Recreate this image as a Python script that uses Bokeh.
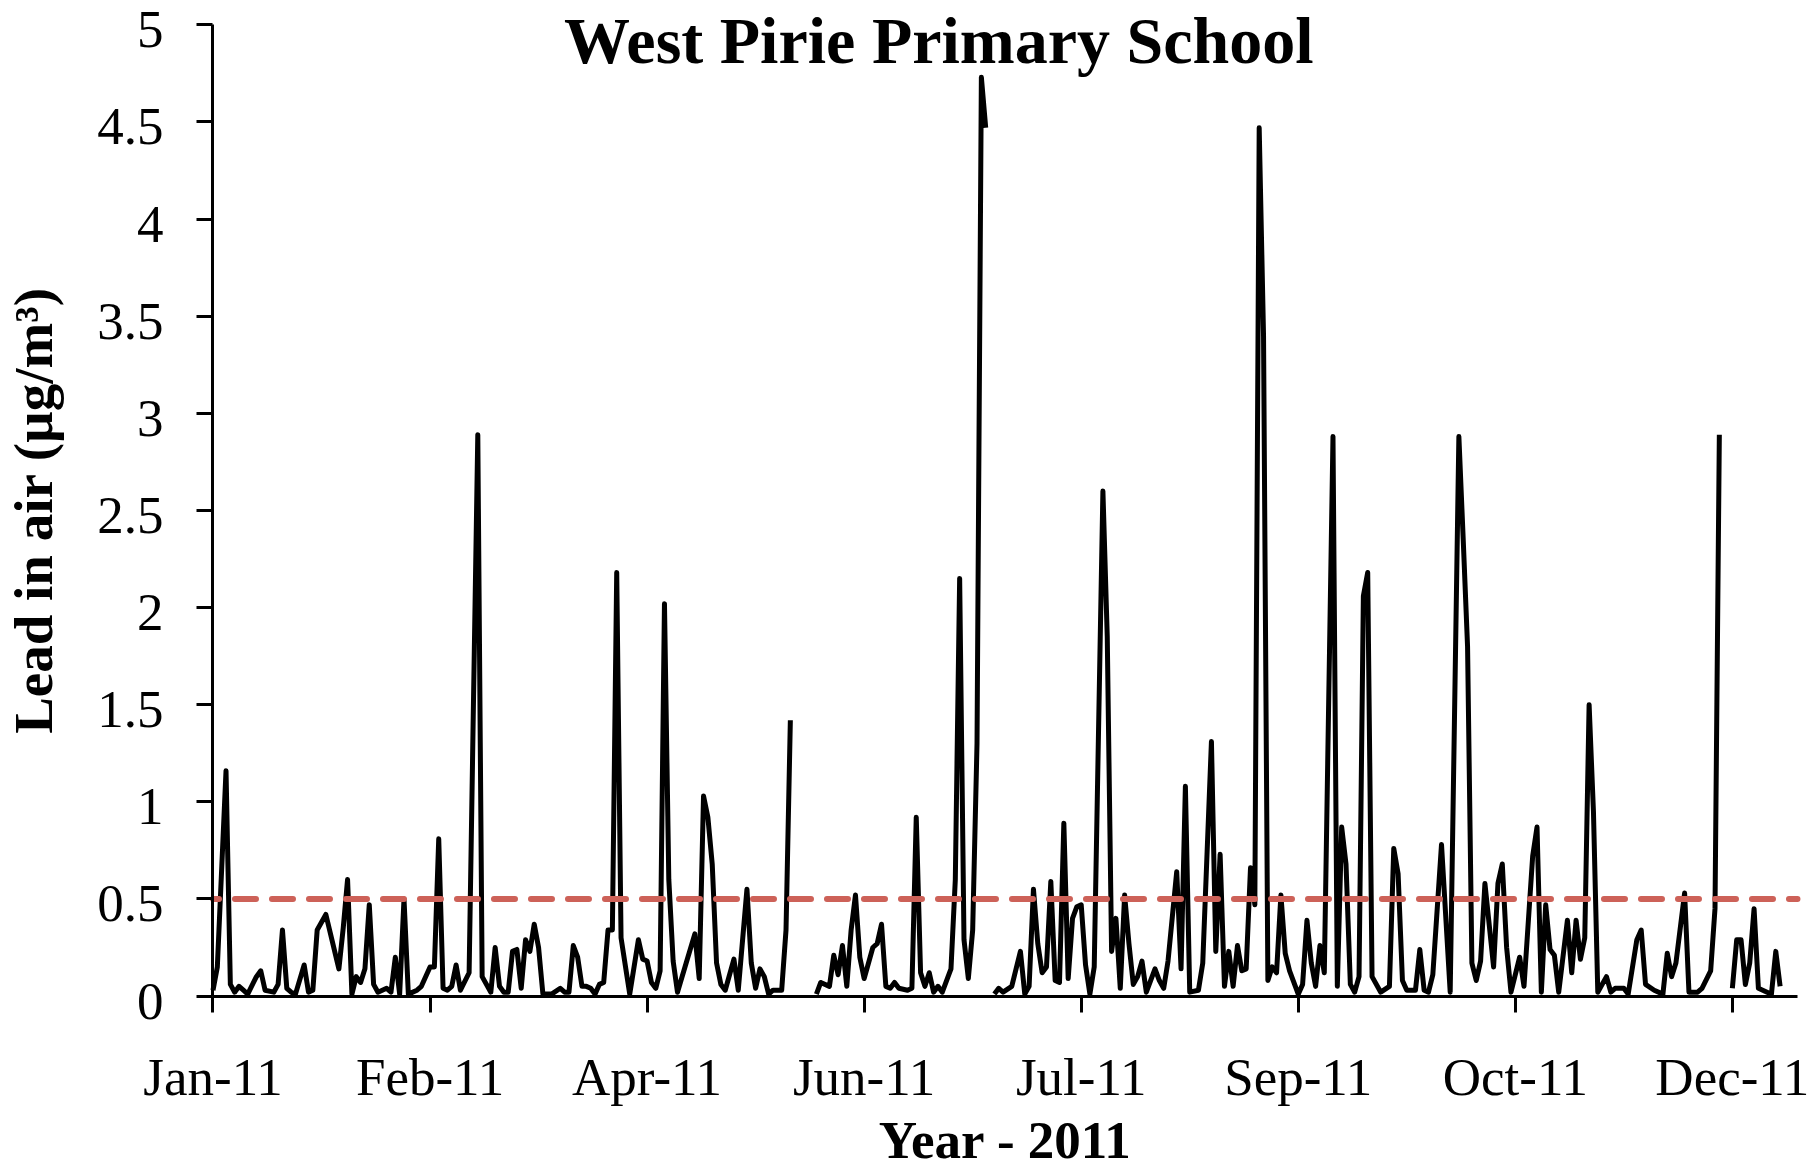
import numpy as np
from bokeh.plotting import figure
from bokeh.models import Range1d, FixedTicker, Label, ColumnDataSource
from bokeh.core.properties import value
from bokeh.embed import file_html
from bokeh.resources import INLINE

title_text = "West Pirie Primary School"
x_axis_title = "Year - 2011"
y_axis_title = "Lead in air (µg/m³)"

tick_days = [0, 50, 100, 150, 200, 250, 300, 350]
tick_labels = ["Jan-11", "Feb-11", "Apr-11", "Jun-11", "Jul-11", "Sep-11", "Oct-11", "Dec-11"]
y_ticks = [0, 0.5, 1, 1.5, 2, 2.5, 3, 3.5, 4, 4.5, 5]
y_tick_labels = ["0", "0.5", "1", "1.5", "2", "2.5", "3", "3.5", "4", "4.5", "5"]
y_axis_bounds = (0, 5)
x_axis_bounds = (0, 365)
standard_ugm3 = 0.5

# day index from start of record; None marks a break in the record
day_of_year = [
    0, 1, 3, 4, 5, 6, 7, 8, 10, 11, 12, 14, 15, 16, 17, 18, 19, 21, 22, 23,
    24, 26, 29, 30, 31, 32, 33, 34, 35, 36, 37, 38, 40, 41, 42, 43, 44, 45, 47, 48,
    50, 51, 52, 53, 54, 55, 56, 57, 59, 61, 62, 64, 65, 66, 67, 68, 69, 70, 71, 72,
    73, 74, 75, 76, 78, 80, 81, 82, 83, 84, 85, 86, 87, 88, 89, 90, 91, 92, 93, 94,
    96, 98, 99, 100, 101, 102, 103, 104, 105, 106, 107, 109, 111, 112, 113, 114, 115, 116, 117, 118,
    120, 121, 123, 124, 125, 126, 127, 128, 129, 131, 132, 133, 134, 139, 140, 142, 143, 144, 145, 146,
    147, 148, 149, 150, 152, 153, 154, 155, 156, 157, 158, 160, 161, 162, 163, 164, 165, 166, 167, 168,
    170, 171, 172, 173, 174, 175, 176, 177, 178, 179, 180, 181, 182, 184, 186, 187, 188, 189, 190, 191,
    192, 193, 194, 195, 196, 197, 198, 199, 200, 201, 202, 203, 205, 206, 207, 208, 209, 210, 211, 212,
    213, 214, 215, 217, 218, 219, 220, 222, 223, 224, 225, 227, 228, 230, 231, 232, 233, 234, 235, 236,
    237, 238, 239, 240, 241, 242, 243, 244, 245, 246, 247, 248, 250, 251, 252, 253, 254, 255, 256, 258,
    259, 260, 261, 262, 263, 264, 265, 266, 267, 269, 271, 272, 273, 274, 275, 277, 278, 279, 280, 281,
    283, 285, 287, 288, 289, 290, 291, 292, 293, 295, 296, 297, 298, 299, 301, 302, 304, 305, 306, 307,
    308, 309, 310, 312, 313, 314, 315, 316, 317, 318, 319, 321, 322, 323, 325, 326, 328, 329, 330, 332,
    334, 335, 336, 337, 339, 340, 342, 343, 345, 346, 347, 348, 350, 351, 352, 353, 354, 355, 356, 358,
    359, 360, 361,
]
lead_ugm3 = [
    0.03, 0.15, 1.16, 0.06, 0.02, 0.05, 0.03, 0.01, 0.10, 0.13, 0.03, 0.02, 0.06, 0.34, 0.04, 0.02, 0.01, 0.16, 0.02, 0.03,
    0.34, 0.42, 0.14, 0.35, 0.60, 0.01, 0.10, 0.07, 0.14, 0.47, 0.06, 0.02, 0.04, 0.02, 0.20, 0.01, 0.50, 0.01, 0.03, 0.05,
    0.15, 0.15, 0.81, 0.04, 0.03, 0.05, 0.16, 0.03, 0.12, 2.89, 0.10, 0.02, 0.25, 0.05, 0.02, 0.02, 0.23, 0.24, 0.04, 0.29,
    0.23, 0.37, 0.25, 0.01, 0.01, 0.04, 0.02, 0.02, 0.26, 0.20, 0.05, 0.05, 0.04, 0.01, 0.06, 0.07, 0.34, 0.34, 2.18, 0.30,
    0.01, 0.29, 0.19, 0.18, 0.07, 0.04, 0.13, 2.02, 0.60, 0.18, 0.02, 0.17, 0.32, 0.09, 1.03, 0.92, 0.68, 0.17, 0.06, 0.03,
    0.19, 0.03, 0.55, 0.17, 0.04, 0.14, 0.10, 0.01, 0.03, 0.03, 0.34, 1.42, None, 0.01, 0.07, 0.05, 0.21, 0.11, 0.26, 0.05,
    0.34, 0.52, 0.20, 0.09, 0.25, 0.27, 0.37, 0.05, 0.04, 0.07, 0.04, 0.03, 0.04, 0.92, 0.12, 0.05, 0.12, 0.02, 0.05, 0.02,
    0.14, 0.60, 2.15, 0.29, 0.09, 0.34, 1.30, 4.73, 4.47, None, 0.01, 0.04, 0.02, 0.05, 0.23, 0.01, 0.05, 0.55, 0.27, 0.12,
    0.15, 0.59, 0.08, 0.07, 0.89, 0.09, 0.40, 0.46, 0.47, 0.16, 0.01, 0.15, 2.60, 1.85, 0.23, 0.40, 0.04, 0.52, 0.27, 0.06,
    0.10, 0.18, 0.02, 0.14, 0.08, 0.04, 0.18, 0.64, 0.14, 1.08, 0.02, 0.03, 0.17, 1.31, 0.23, 0.73, 0.05, 0.23, 0.05, 0.26,
    0.13, 0.14, 0.66, 0.47, 4.47, 3.40, 0.08, 0.15, 0.12, 0.52, 0.22, 0.13, 0.01, 0.06, 0.39, 0.17, 0.05, 0.26, 0.12, 2.88,
    0.05, 0.87, 0.68, 0.06, 0.02, 0.10, 2.06, 2.18, 0.10, 0.02, 0.05, 0.76, 0.63, 0.08, 0.03, 0.03, 0.24, 0.03, 0.02, 0.11,
    0.78, 0.02, 2.88, 2.35, 1.80, 0.17, 0.08, 0.18, 0.58, 0.15, 0.58, 0.68, 0.25, 0.02, 0.20, 0.05, 0.72, 0.87, 0.02, 0.47,
    0.24, 0.21, 0.02, 0.39, 0.12, 0.39, 0.19, 0.30, 1.50, 0.95, 0.02, 0.10, 0.02, 0.04, 0.04, 0.01, 0.29, 0.34, 0.06, 0.03,
    0.01, 0.22, 0.10, 0.17, 0.53, 0.02, 0.02, 0.04, 0.13, 0.45, 2.89, None, 0.04, 0.29, 0.29, 0.06, 0.17, 0.45, 0.04, 0.02,
    0.01, 0.23, 0.05,
]

FONT = "Liberation Serif"

source = ColumnDataSource(data=dict(
    day=day_of_year,
    lead=[np.nan if v is None else v for v in lead_ugm3],
))

# The plot frame fills the whole canvas; both axes are pinned at the data origin and
# bounded to the data extent, leaving room around them for the titles and tick labels.
p = figure(
    width=1811, height=1170,
    output_backend="svg", toolbar_location=None,
    x_range=Range1d(-48.95, 368.23), y_range=Range1d(-0.898, 5.125),
    min_border_left=0, min_border_right=0,
    min_border_top=0, min_border_bottom=0,
)
p.outline_line_color = None
p.grid.visible = False
p.background_fill_color = "white"
p.border_fill_color = "white"

p.line("day", "lead", source=source, line_color="black", line_width=5, line_join="round")

# 0.5 µg/m³ standard, drawn across the axis extent
p.segment(x0=[x_axis_bounds[0]], x1=[x_axis_bounds[1]], y0=[standard_ugm3], y1=[standard_ugm3],
          line_color="#CD6158", line_width=6, line_dash="21 16", line_dash_offset=15,
          line_cap="round")

p.add_layout(Label(x=167.2, y=4.919, text=title_text, text_font=FONT, text_font_style="bold",
                   text_font_size="66px", text_align="center", text_baseline="middle",
                   text_color="black"))

p.add_layout(Label(x=182.5, y=-0.741, text=x_axis_title, text_font=FONT, text_font_style="bold",
                   text_font_size="53px", text_align="center", text_baseline="middle",
                   text_color="black"))

p.add_layout(Label(x=-41.3, y=2.5, text=y_axis_title, text_font=FONT, text_font_style="bold",
                   text_font_size="55px", text_align="center", text_baseline="middle",
                   angle=np.pi / 2, text_color="black"))

# y tick labels, set a few pixels below their ticks as in the original
ylab_source = ColumnDataSource(data=dict(
    x=[-11.4] * len(y_ticks), y=y_ticks, text=y_tick_labels,
))
p.text(x="x", y="y", text="text", source=ylab_source, text_font=value(FONT),
       text_font_size=value("53px"), text_align="right", text_baseline="middle",
       y_offset=5, text_color="black")

xa = p.xaxis[0]
xa.ticker = FixedTicker(ticks=tick_days)
xa.major_label_overrides = {d: l for d, l in zip(tick_days, tick_labels)}
xa.fixed_location = 0
xa.bounds = x_axis_bounds

ya = p.yaxis[0]
ya.ticker = FixedTicker(ticks=y_ticks)
ya.major_label_text_font_size = "0px"
ya.major_label_text_color = None
ya.fixed_location = 0
ya.bounds = y_axis_bounds

for ax in (xa, ya):
    ax.axis_line_color = "black"
    ax.axis_line_width = 3
    ax.major_tick_line_color = "black"
    ax.major_tick_line_width = 3
    ax.major_tick_in = 0
    ax.major_tick_out = 16
    ax.minor_tick_line_color = None

xa.major_label_text_font = FONT
xa.major_label_text_font_size = "53px"
xa.major_label_text_color = "black"
xa.major_label_standoff = 36

open("out.html", "w").write(file_html(p, INLINE))
